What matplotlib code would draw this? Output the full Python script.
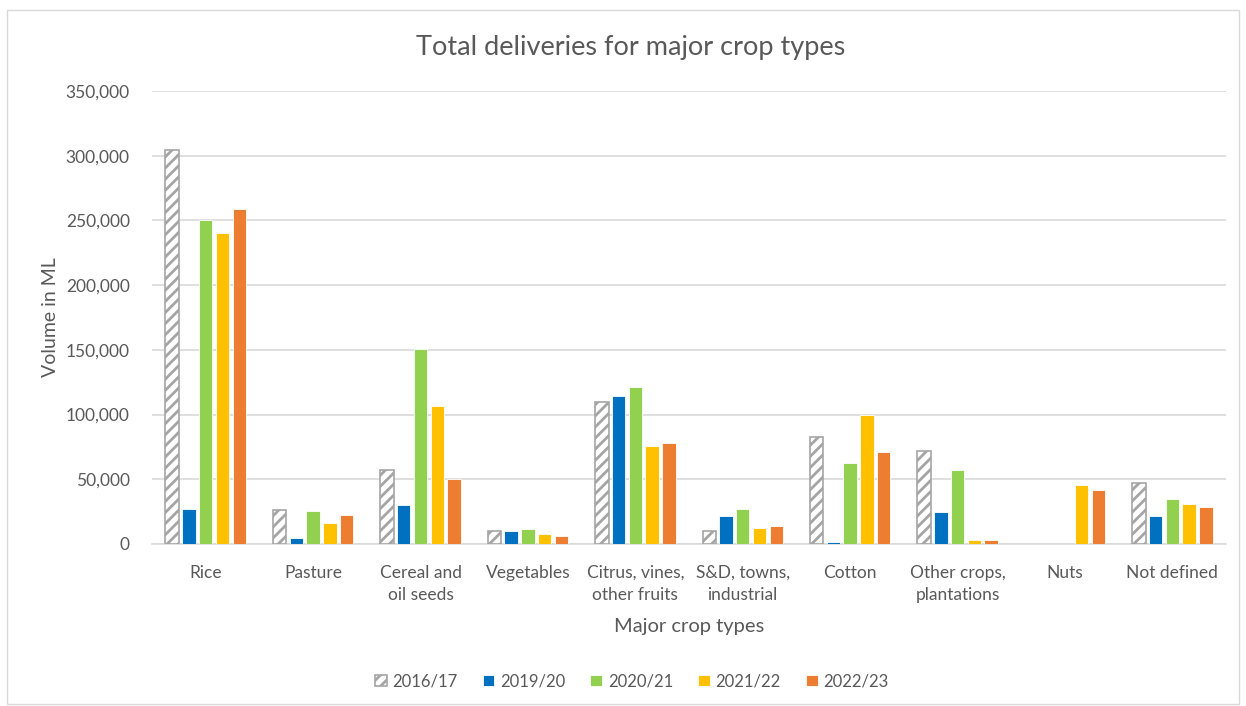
import numpy as np
import matplotlib.pyplot as plt
from matplotlib.patches import Rectangle
from matplotlib.ticker import FuncFormatter

plt.rcParams['font.family'] = ['Lato', 'DejaVu Sans']
plt.rcParams['hatch.linewidth'] = 2.0

# data
categories = ['Rice', 'Pasture', 'Cereal and\noil seeds', 'Vegetables',
              'Citrus, vines,\nother fruits', 'S&D, towns,\nindustrial', 'Cotton',
              'Other crops,\nplantations', 'Nuts', 'Not defined']
seasons = ['2016/17', '2019/20', '2020/21', '2021/22', '2022/23']
v2016 = [304500, 26000, 57000, 10300, 109500, 10000, 82400, 71900, 0, 47000]
v2019 = [27000, 4500, 30000, 10300, 114000, 22000, 1500, 24500, 0, 22000]
v2020 = [250400, 25700, 151000, 11600, 121500, 27000, 62800, 57000, 0, 34800]
v2021 = [240000, 16000, 106600, 7500, 75700, 12600, 100000, 3000, 45300, 30900]
v2022 = [259000, 22400, 50000, 6400, 78000, 13900, 71300, 3000, 41700, 28800]
series = [v2016, v2019, v2020, v2021, v2022]

colors = ['white', '#0070C0', '#92D050', '#FFC000', '#ED7D31']
txt = '#595959'

fig = plt.figure(figsize=(12.46, 7.06), dpi=100)
ax = fig.add_axes([0.122, 0.2295, 0.862, 0.6415])

x = np.arange(len(categories))
step = 0.156
w = 0.125
for i, (vals, c) in enumerate(zip(series, colors)):
    pos = x + (i - 2) * step
    if i == 0:
        lw = [1.2 if v > 0 else 0 for v in vals]
        ax.bar(pos, vals, w, color='white', edgecolor='#A5A5A5', hatch='///',
               linewidth=lw, label=seasons[i], zorder=3)
    else:
        ax.bar(pos, vals, w, color=c, edgecolor='white', linewidth=0.6,
               label=seasons[i], zorder=3)

ax.set_ylim(0, 350000)
ax.set_xlim(-0.5, len(categories) - 0.5)
ax.set_yticks(np.arange(0, 350001, 50000))
ax.yaxis.set_major_formatter(FuncFormatter(lambda v, p: f'{int(v):,}'))
ax.set_xticks(x)
ax.set_xticklabels(categories, linespacing=1.45)
ax.grid(axis='y', color='#D9D9D9', linewidth=1.2, zorder=0)
for s in ['top', 'right', 'left']:
    ax.spines[s].set_visible(False)
ax.spines['bottom'].set_color('#D9D9D9')
ax.spines['bottom'].set_linewidth(1.2)
ax.tick_params(length=0, colors=txt, labelsize=12.5)
ax.tick_params(axis='x', pad=15)
ax.tick_params(axis='y', pad=16)

fig.text(0.506, 0.933, 'Total deliveries for major crop types', fontsize=19.5,
         color=txt, ha='center', va='center')
ax.set_xlabel('Major crop types', fontsize=14.5, color=txt, labelpad=11)
ax.set_ylabel('Volume in ML', fontsize=14, color=txt, labelpad=5)

leg = fig.legend(loc='center', bbox_to_anchor=(0.507, 0.035), ncol=5, frameon=False,
                 fontsize=12, handlelength=0.7, handleheight=0.7, columnspacing=1.5,
                 handletextpad=0.35)
for t in leg.get_texts():
    t.set_color(txt)

fig.patches.append(Rectangle((0.006, 0.003), 0.988, 0.983, transform=fig.transFigure,
                             fill=False, edgecolor='#D9D9D9', linewidth=1))

fig.savefig('out.png', dpi=100)
